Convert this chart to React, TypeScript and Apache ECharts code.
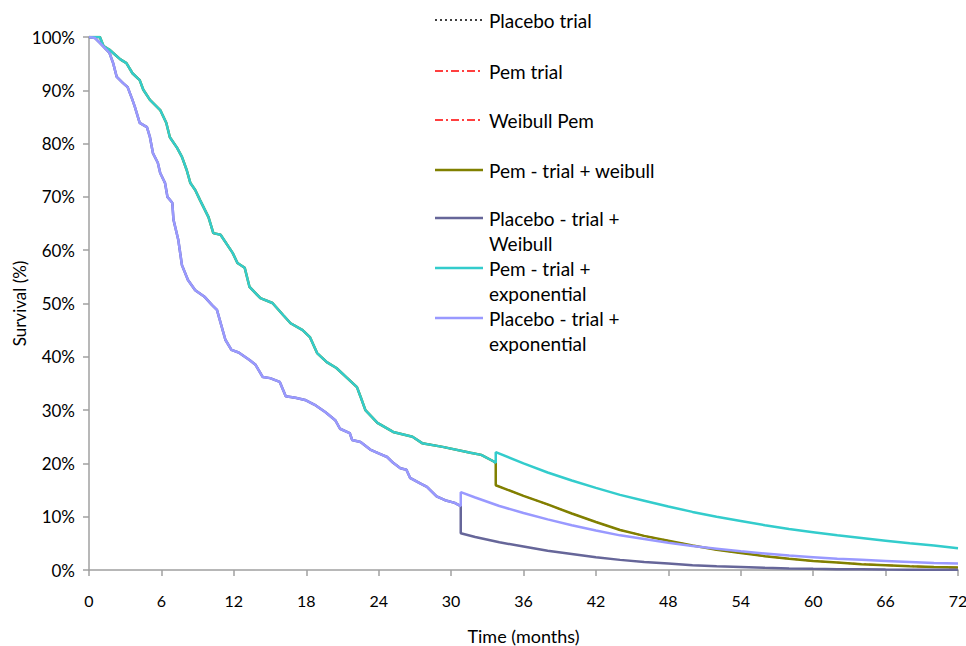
import React, { useEffect, useRef } from "react";
import * as echarts from "echarts";

// ---- Data (months, survival %) ----
const placeboTrialMonths = [0, 0.5, 0.9, 1.7, 2.0, 2.3, 2.8, 3.2, 3.6, 3.8, 4.2, 4.8, 5.05, 5.3, 5.7, 5.9, 6.3, 6.5, 6.9, 7.0, 7.4, 7.7, 8.2, 8.8, 9.6, 10.2, 10.6, 11.3, 11.8, 12.4, 13.3, 13.8, 14.4, 15.0, 15.8, 16.3, 17.1, 17.9, 18.7, 19.6, 20.4, 20.8, 21.6, 21.8, 22.5, 23.3, 24.0, 24.7, 25.2, 25.8, 26.3, 26.6, 27.4, 28.0, 28.8, 29.5, 30.3, 30.8];
const placeboTrialSurv = [100, 99.8, 98.9, 97.0, 95.1, 92.5, 91.4, 90.6, 88.2, 86.9, 83.9, 83.1, 81.2, 78.2, 76.4, 74.5, 72.6, 70.0, 68.9, 65.7, 61.9, 57.2, 54.4, 52.5, 51.2, 49.7, 48.8, 43.2, 41.3, 40.8, 39.4, 38.5, 36.2, 36.0, 35.3, 32.6, 32.3, 31.9, 31.0, 29.6, 28.1, 26.5, 25.7, 24.4, 24.0, 22.6, 21.9, 21.2, 20.1, 19.1, 18.8, 17.3, 16.3, 15.6, 13.8, 13.1, 12.6, 12.0];

const pemTrialMonths = [0, 0.9, 1.2, 1.7, 2.0, 2.6, 3.1, 3.6, 4.2, 4.5, 5.05, 5.9, 6.4, 6.7, 7.3, 7.7, 8.1, 8.4, 8.8, 9.2, 9.9, 10.3, 10.9, 11.9, 12.3, 12.9, 13.3, 14.2, 15.2, 16.1, 16.7, 17.7, 18.3, 18.9, 19.7, 20.5, 21.4, 22.2, 22.5, 22.9, 23.9, 25.2, 26.8, 27.6, 29.3, 31.6, 32.5, 33.5, 33.7];
const pemTrialSurv = [100, 100, 98.3, 97.6, 97.0, 95.8, 95.1, 93.2, 91.9, 90.1, 88.2, 86.3, 83.9, 81.2, 79.2, 77.5, 75.0, 72.6, 71.3, 69.4, 66.2, 63.2, 62.9, 59.5, 57.6, 56.7, 53.1, 51.0, 50.1, 47.8, 46.3, 45.0, 43.7, 40.7, 39.0, 37.9, 36.0, 34.3, 32.5, 30.0, 27.6, 25.9, 25.0, 23.8, 23.1, 22.0, 21.6, 20.4, 20.1];

// Extrapolated tails
const pemTailMonths = [33.7, 36, 38, 40, 42, 44, 46, 48, 50, 52, 54, 56, 58, 60, 62, 64, 66, 68, 70, 72];
const pemWeibullSurv = [15.9, 13.9, 12.3, 10.6, 9.0, 7.5, 6.4, 5.5, 4.6, 3.8, 3.2, 2.6, 2.1, 1.7, 1.4, 1.1, 0.9, 0.7, 0.55, 0.45];
const pemExpSurv = [22.1, 20.0, 18.3, 16.8, 15.4, 14.1, 13.0, 11.9, 10.9, 10.0, 9.2, 8.4, 7.7, 7.1, 6.5, 6.0, 5.5, 5.0, 4.6, 4.1];

const placeboTailMonths = [30.8, 32, 34, 36, 38, 40, 42, 44, 46, 48, 50, 52, 54, 56, 58, 60, 62, 64, 66, 68, 70, 72];
const placeboWeibullSurv = [6.9, 6.2, 5.2, 4.4, 3.6, 3.0, 2.4, 1.9, 1.5, 1.2, 0.9, 0.7, 0.55, 0.4, 0.3, 0.22, 0.16, 0.12, 0.08, 0.06, 0.04, 0.03];
const placeboExpSurv = [14.6, 13.6, 12.0, 10.7, 9.5, 8.4, 7.4, 6.5, 5.8, 5.1, 4.5, 4.0, 3.5, 3.1, 2.7, 2.4, 2.1, 1.9, 1.7, 1.5, 1.3, 1.2];

const xTicks = [0, 6, 12, 18, 24, 30, 36, 42, 48, 54, 60, 66, 72];

const seriesNames = [
  "Placebo trial",
  "Pem trial",
  "Weibull Pem",
  "Pem - trial + weibull",
  "Placebo - trial +\nWeibull",
  "Pem - trial +\nexponential",
  "Placebo - trial +\nexponential",
];

const FONT = "Lato, 'Liberation Sans', sans-serif";

const pairs = (xs: number[], ys: number[]) => xs.map((x, i) => [x, ys[i]]);

export default function App() {
  const ref = useRef<HTMLDivElement>(null);
  useEffect(() => {
    if (!ref.current) return;
    const chart = echarts.init(ref.current, undefined, { renderer: "svg" });

    const styles = [
      { color: "#000000", width: 1.5, type: [2, 3] as any },
      { color: "#FF0000", width: 1.5, type: [8, 3, 2, 3] as any },
      { color: "#FF0000", width: 1.5, type: [8, 3, 2, 3] as any },
      { color: "#808000", width: 2.5, type: "solid" as any },
      { color: "#666699", width: 2.5, type: "solid" as any },
      { color: "#33CCCC", width: 2.5, type: "solid" as any },
      { color: "#9999FF", width: 2.5, type: "solid" as any },
    ];

    const data = [
      pairs(placeboTrialMonths, placeboTrialSurv),
      pairs(pemTrialMonths, pemTrialSurv),
      pairs(pemTailMonths, pemWeibullSurv),
      pairs(pemTrialMonths, pemTrialSurv).concat(pairs(pemTailMonths, pemWeibullSurv)),
      pairs(placeboTrialMonths, placeboTrialSurv).concat(pairs(placeboTailMonths, placeboWeibullSurv)),
      pairs(pemTrialMonths, pemTrialSurv).concat(pairs(pemTailMonths, pemExpSurv)),
      pairs(placeboTrialMonths, placeboTrialSurv).concat(pairs(placeboTailMonths, placeboExpSurv)),
    ];

    const legendY = [20, 71, 120, 170, 218, 268, 318];
    const legendGraphics: any[] = [];
    seriesNames.forEach((name, i) => {
      legendGraphics.push({
        type: "line",
        shape: { x1: 435, y1: legendY[i], x2: 483, y2: legendY[i] },
        style: { stroke: styles[i].color, lineWidth: styles[i].width, lineDash: Array.isArray(styles[i].type) ? styles[i].type : null },
        silent: true,
      });
      legendGraphics.push({
        type: "text",
        x: 489,
        y: legendY[i] - 12.5,
        style: {
          text: name,
          fill: "#000000",
          font: `19px ${FONT}`,
          lineHeight: 25,
          verticalAlign: "top",
        },
        silent: true,
      });
    });

    chart.setOption({
      animation: false,
      backgroundColor: "#ffffff",
      grid: { left: 89, right: 8, top: 37, bottom: 76, containLabel: false, outerBoundsMode: "none" },
      xAxis: {
        type: "value",
        min: 0,
        max: 72,
        interval: 6,
        name: "Time (months)",
        nameLocation: "middle",
        nameGap: 57,
        nameMoveOverlap: false,
        nameTextStyle: { fontFamily: FONT, fontSize: 18, color: "#000" },
        axisLine: { show: true, lineStyle: { color: "#A0A0A0", width: 1.5 } },
        axisTick: { show: true, inside: false, length: 6, lineStyle: { color: "#A0A0A0", width: 1.5 } },
        axisLabel: {
          margin: 22,
          fontFamily: FONT,
          fontSize: 16,
          color: "#000",
          formatter: (v: number) => (xTicks.includes(v) ? String(v) : ""),
        },
        splitLine: { show: false },
      },
      yAxis: {
        type: "value",
        min: 0,
        max: 100,
        interval: 10,
        name: "Survival (%)",
        nameLocation: "middle",
        nameGap: 61,
        nameMoveOverlap: false,
        nameTextStyle: { fontFamily: FONT, fontSize: 17, color: "#000" },
        axisLine: { show: true, lineStyle: { color: "#A0A0A0", width: 1.5 } },
        axisTick: { show: true, inside: false, length: 6, lineStyle: { color: "#A0A0A0", width: 1.5 } },
        axisLabel: { margin: 14, fontFamily: FONT, fontSize: 17, color: "#000", formatter: "{value}%" },
        splitLine: { show: false },
      },
      series: data.map((d, i) => ({
        type: "line",
        name: seriesNames[i],
        data: d,
        showSymbol: false,
        symbol: "none",
        smooth: false,
        lineStyle: styles[i],
        itemStyle: { color: styles[i].color },
        z: 2 + i,
      })),
      graphic: legendGraphics,
    });
    return () => chart.dispose();
  }, []);
  return (
    <div
      ref={ref}
      style={{ position: "fixed", left: 0, top: 0, width: 966, height: 646, background: "#fff" }}
    />
  );
}
